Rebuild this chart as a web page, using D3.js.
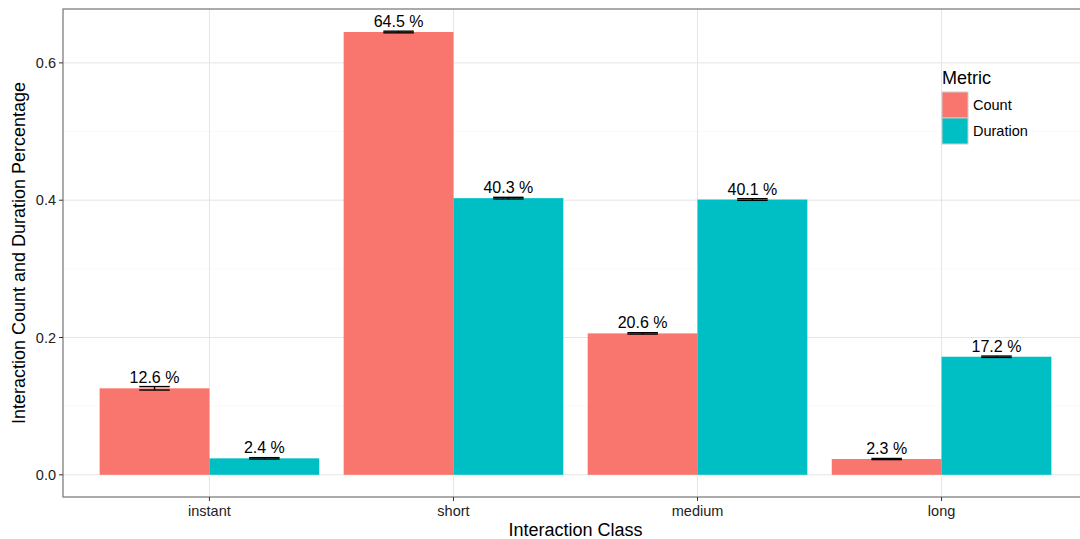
<!DOCTYPE html>
<html>
<head>
<meta charset="utf-8">
<script src="https://cdn.jsdelivr.net/npm/d3@7"></script>
<style>
  body { margin: 0; background: #fff; }
  text { font-family: "Liberation Sans", Arial, sans-serif; }
</style>
</head>
<body>
<svg id="chart" width="1080" height="539"></svg>
<script>
const categories = ["instant", "short", "medium", "long"];
const metrics = ["Count", "Duration"];
const countValues = [0.126, 0.645, 0.206, 0.023];
const durationValues = [0.024, 0.403, 0.401, 0.172];
const countErr = [0.0025, 0.0012, 0.0010, 0.0008];
const durationErr = [0.0010, 0.0012, 0.0012, 0.0010];
const countLabels = ["12.6 %", "64.5 %", "20.6 %", "2.3 %"];
const durationLabels = ["2.4 %", "40.3 %", "40.1 %", "17.2 %"];
const yTicks = [0.0, 0.2, 0.4, 0.6];
const yMinor = [0.1, 0.3, 0.5];
const colors = ["#F8766D", "#00BFC4"];

const data = [];
categories.forEach((c, i) => {
  data.push({cat: c, metric: "Count", v: countValues[i], e: countErr[i], label: countLabels[i]});
  data.push({cat: c, metric: "Duration", v: durationValues[i], e: durationErr[i], label: durationLabels[i]});
});

const svg = d3.select("#chart");
const pL = 63, pR = 1088, pT = 9, pB = 497;

const maxV = d3.max(data, d => d.v + d.e);
const pad = maxV * 0.05;
const y = d3.scaleLinear().domain([-pad, maxV + pad]).range([pB, pT]);
// discrete axis: positions 1..4, limits 0.4..4.6
const xs = d3.scaleLinear().domain([0.4, 4.6]).range([pL, pR]);
const unit = xs(1) - xs(0);
const cx = c => xs(categories.indexOf(c) + 1);
const xm = d3.scaleBand().domain(metrics).range([-0.45 * unit, 0.45 * unit]).padding(0);
const color = d3.scaleOrdinal().domain(metrics).range(colors);

const g = svg.append("g");

// minor grid
g.selectAll(".minor").data(yMinor).join("line")
  .attr("x1", pL).attr("x2", pR)
  .attr("y1", d => y(d)).attr("y2", d => y(d))
  .attr("stroke", "#f5f5f5").attr("stroke-width", 0.6);
// major grid
g.selectAll(".major").data(yTicks).join("line")
  .attr("x1", pL).attr("x2", pR)
  .attr("y1", d => y(d)).attr("y2", d => y(d))
  .attr("stroke", "#e5e5e5").attr("stroke-width", 1);
g.selectAll(".vgrid").data(categories).join("line")
  .attr("x1", d => cx(d)).attr("x2", d => cx(d))
  .attr("y1", pT).attr("y2", pB)
  .attr("stroke", "#e5e5e5").attr("stroke-width", 1);

// bars
g.selectAll(".bar").data(data).join("rect")
  .attr("x", d => cx(d.cat) + xm(d.metric))
  .attr("width", xm.bandwidth())
  .attr("y", d => y(d.v))
  .attr("height", d => y(0) - y(d.v))
  .attr("fill", d => color(d.metric));

// error bars
const ew = 0.0625 * unit;
const eb = g.selectAll(".eb").data(data).join("g")
  .attr("transform", d => `translate(${cx(d.cat) + xm(d.metric) + xm.bandwidth() / 2},0)`);
eb.append("line").attr("x1", -ew).attr("x2", ew)
  .attr("y1", d => y(d.v + d.e)).attr("y2", d => y(d.v + d.e))
  .attr("stroke", "#000").attr("stroke-width", 1.4);
eb.append("line").attr("x1", -ew).attr("x2", ew)
  .attr("y1", d => y(d.v - d.e)).attr("y2", d => y(d.v - d.e))
  .attr("stroke", "#000").attr("stroke-width", 1.4);
eb.append("line").attr("x1", 0).attr("x2", 0)
  .attr("y1", d => y(d.v + d.e)).attr("y2", d => y(d.v - d.e))
  .attr("stroke", "#000").attr("stroke-width", 1.4);

// labels
g.selectAll(".lbl").data(data).join("text")
  .attr("x", d => cx(d.cat) + xm(d.metric) + xm.bandwidth() / 2)
  .attr("y", d => y(d.v) - 5)
  .attr("text-anchor", "middle")
  .attr("font-size", 16)
  .attr("fill", "#000")
  .text(d => d.label);

// panel border
svg.append("rect").attr("x", pL).attr("y", pT)
  .attr("width", pR - pL).attr("height", pB - pT)
  .attr("fill", "none").attr("stroke", "#7f7f7f").attr("stroke-width", 1.3);

// y axis ticks
const yg = svg.append("g");
yg.selectAll("line").data(yTicks).join("line")
  .attr("x1", pL - 4).attr("x2", pL)
  .attr("y1", d => y(d)).attr("y2", d => y(d))
  .attr("stroke", "#333").attr("stroke-width", 1);
yg.selectAll("text").data(yTicks).join("text")
  .attr("x", pL - 7).attr("y", d => y(d))
  .attr("dy", "0.35em").attr("text-anchor", "end")
  .attr("font-size", 14.5).attr("fill", "#222")
  .text(d => d3.format(".1f")(d));

// x axis ticks
const xg = svg.append("g");
xg.selectAll("line").data(categories).join("line")
  .attr("x1", d => cx(d)).attr("x2", d => cx(d))
  .attr("y1", pB).attr("y2", pB + 4)
  .attr("stroke", "#333").attr("stroke-width", 1);
xg.selectAll("text").data(categories).join("text")
  .attr("x", d => cx(d)).attr("y", pB + 19)
  .attr("text-anchor", "middle")
  .attr("font-size", 14.5).attr("fill", "#222")
  .text(d => d);

// axis titles
svg.append("text").attr("x", (pL + pR) / 2).attr("y", 536)
  .attr("text-anchor", "middle").attr("font-size", 18).attr("fill", "#000")
  .text("Interaction Class");
svg.append("text")
  .attr("transform", `translate(25,${(pT + pB) / 2}) rotate(-90)`)
  .attr("text-anchor", "middle").attr("font-size", 18).attr("fill", "#000")
  .text("Interaction Count and Duration Percentage");

// legend
const lg = svg.append("g").attr("transform", "translate(942,70)");
lg.append("text").attr("x", 0).attr("y", 14).attr("font-size", 18).attr("fill", "#000").text("Metric");
metrics.forEach((m, i) => {
  lg.append("rect").attr("x", 0).attr("y", 22 + i * 26)
    .attr("width", 26).attr("height", 26)
    .attr("fill", color(m)).attr("stroke", "#cccccc").attr("stroke-width", 1);
  lg.append("text").attr("x", 31).attr("y", 35 + i * 26).attr("dy", "0.35em")
    .attr("font-size", 14.5).attr("fill", "#000").text(m);
});
</script>
</body>
</html>
